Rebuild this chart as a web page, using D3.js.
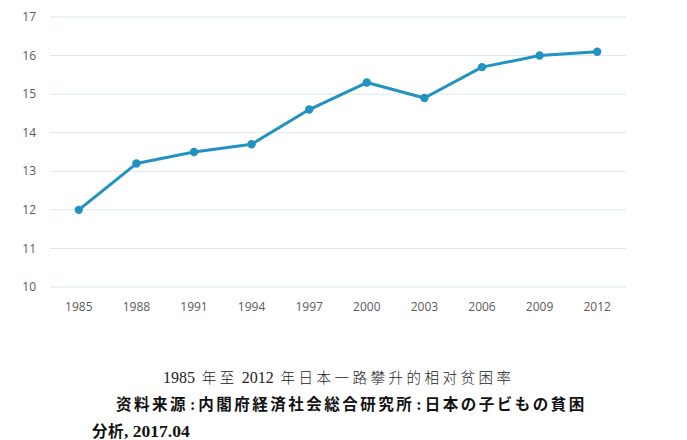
<!DOCTYPE html>
<html><head><meta charset="utf-8">
<script src="https://cdn.jsdelivr.net/npm/d3@7"></script>
<style>
body{margin:0;background:#fff;}
svg{display:block;}
</style></head>
<body>
<svg id="c" width="687" height="440"></svg>
<script>
const years = ["1985","1988","1991","1994","1997","2000","2003","2006","2009","2012"];
const rates = [12.0, 13.2, 13.5, 13.7, 14.6, 15.3, 14.9, 15.7, 16.0, 16.1];
const yTicks = [10, 11, 12, 13, 14, 15, 16, 17];
// caption segments: [text, isLatin]
const captionTitle = [["1985", true], [" 年至", false], [" 2012", true], [" 年日本一路攀升的相对贫困率", false]];
const captionSource1 = [["资料来源", false], [":", true], ["内閣府経済社会総合研究所", false], [":", true], ["日本の子ビもの貧困", false]];
const captionSource2 = [["分析", false], [", 2017.04", true]];

(function(){
const svg = d3.select("#c");
const mL = 50, mR = 626, mT = 17, mB = 287;
const x = d3.scaleBand().domain(years).range([mL, mR]);
const y = d3.scaleLinear().domain([10, 17]).range([mB, mT]);

svg.append("g").selectAll("line").data(yTicks).join("line")
  .attr("x1", mL).attr("x2", mR)
  .attr("y1", d => y(d)).attr("y2", d => y(d))
  .attr("stroke", "#dde8ec").attr("stroke-width", 1);

svg.append("g").selectAll("text").data(yTicks).join("text")
  .attr("x", 36).attr("y", d => y(d)).attr("dy", "0.35em")
  .attr("text-anchor", "end")
  .attr("font-family", "'Open Sans', sans-serif").attr("font-size", 12)
  .attr("fill", "#5a5a5a").text(d => d);

svg.append("g").selectAll("text").data(years).join("text")
  .attr("x", d => x(d) + x.bandwidth() / 2).attr("y", 311)
  .attr("text-anchor", "middle")
  .attr("font-family", "'Open Sans', sans-serif").attr("font-size", 12)
  .attr("fill", "#5a5a5a").text(d => d);

const pts = years.map((yr, i) => [x(yr) + x.bandwidth() / 2, y(rates[i])]);
svg.append("path").attr("d", d3.line()(pts))
  .attr("fill", "none").attr("stroke", "#2292c1").attr("stroke-width", 3)
  .attr("stroke-linejoin", "round");
svg.append("g").selectAll("circle").data(pts).join("circle")
  .attr("cx", d => d[0]).attr("cy", d => d[1]).attr("r", 4.2)
  .attr("fill", "#2292c1");

function caption(segs, px, py, o) {
  const t = svg.append("text").attr("x", px).attr("y", py).attr("fill", o.fill)
    .attr("font-weight", o.weight);
  t.selectAll("tspan").data(segs).join("tspan")
    .attr("font-family", d => d[1] ? "'Liberation Serif', serif" : o.cjk)
    .attr("font-size", d => d[1] ? o.latinSize : o.cjkSize)
    .attr("letter-spacing", d => d[1] ? o.latinSpacing : o.spacing)
    .attr("dx", d => d[1] ? o.latinDx : 0)
    .text(d => d[0]);
}
caption(captionTitle, 163, 383, {fill: "#222", weight: 300, cjk: "'Noto Sans CJK SC', sans-serif", latinSize: 16, cjkSize: 14.5, spacing: 3.5, latinSpacing: 0, latinDx: 0});
caption(captionSource1, 116, 410, {fill: "#111", weight: "bold", cjk: "'Noto Sans CJK JP', sans-serif", latinSize: 16, cjkSize: 15.5, spacing: 2.5, latinSpacing: 3, latinDx: 2});
caption(captionSource2, 92, 437, {fill: "#111", weight: "bold", cjk: "'Noto Sans CJK JP', sans-serif", latinSize: 17.5, cjkSize: 15.5, spacing: 0.5, latinSpacing: 0, latinDx: 0});
})();
</script>
</body></html>
